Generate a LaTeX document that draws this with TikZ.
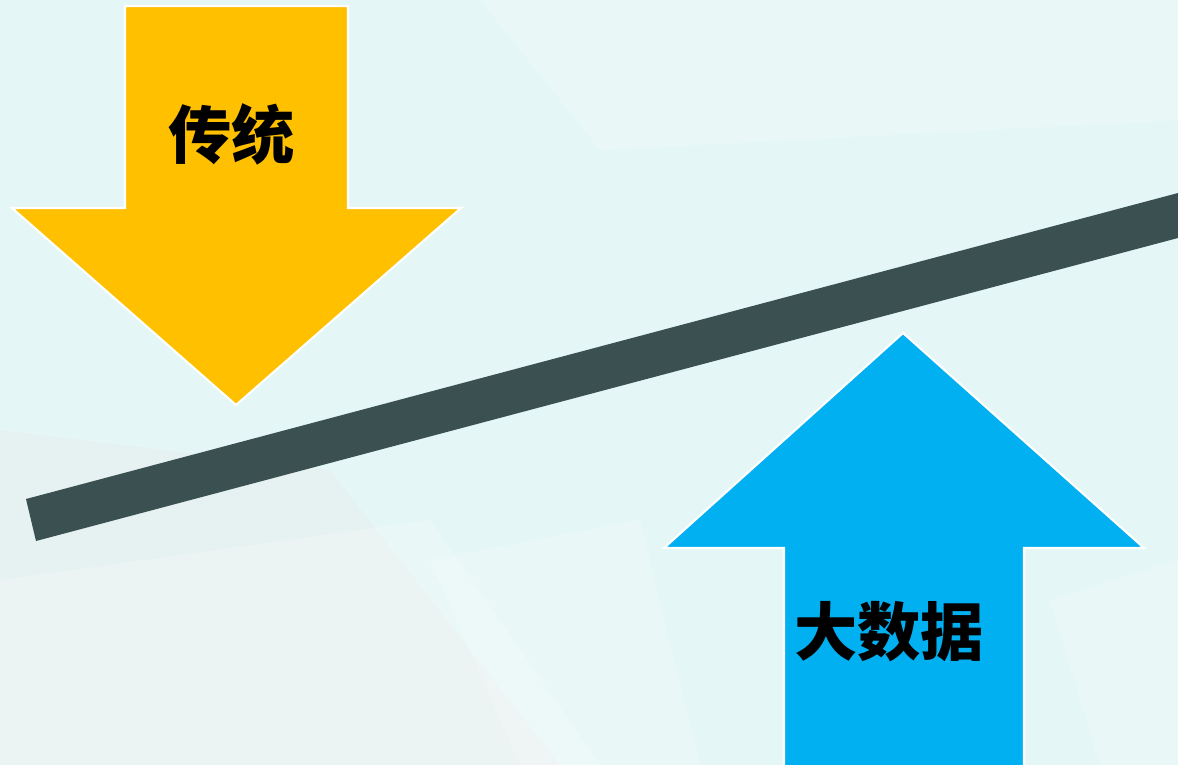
\documentclass[tikz,border=0pt]{standalone}
\usepackage{fontspec}
\newfontfamily\cjk{Noto Sans CJK SC}
\usepackage{tikz}
\usetikzlibrary{positioning,calc}

\definecolor{bgcyan}{RGB}{228,247,246}
\definecolor{bggrey}{RGB}{232,238,238}
\definecolor{oldyellow}{RGB}{255,192,0}
\definecolor{newblue}{RGB}{0,176,240}
\definecolor{beamgrey}{RGB}{59,80,80}

\begin{document}
\begin{tikzpicture}[
    x=0.02cm, y=-0.02cm,
    arrowshape/.style={draw=white, line width=1.2pt, line join=miter},
    facet/.style={fill=white, opacity=0.2, draw=none},
    label/.style={font=\cjk\bfseries\fontsize{36}{36}\selectfont, text=black, inner sep=0pt}
]

% Background
\useasboundingbox (0,0) rectangle (1178,765);
\fill[bgcyan] (0,0) rectangle (1178,765);
\fill[bggrey, opacity=0.6] (0,430) -- (330,470) -- (560,765) -- (0,765) -- cycle;
\fill[facet] (480,0) -- (1178,0) -- (1178,120) -- (600,150) -- cycle;
\fill[facet] (0,580) -- (430,520) -- (600,765) -- (0,765) -- cycle;
\fill[facet] (430,560) -- (640,520) -- (700,765) -- (520,765) -- cycle;
\fill[facet] (1050,600) -- (1178,560) -- (1178,765) -- (1100,765) -- cycle;

% Tilted beam
\fill[beamgrey] (26,499) -- (1178,193) -- (1178,238) -- (36,541) -- cycle;

% Traditional arrow (down)
\filldraw[arrowshape, fill=oldyellow]
    (125,6) -- (348,6) -- (348,208) -- (461,208) -- (236,405)
    -- (12,208) -- (125,208) -- cycle;
\node[label] (trad) at (232,134) {传统};

% Big data arrow (up)
\filldraw[arrowshape, fill=newblue]
    (903,333) -- (1144,548) -- (1024,548) -- (1024,775) -- (784,775)
    -- (784,548) -- (664,548) -- cycle;
\node[label] (bigdata) at (889,632) {大数据};

\end{tikzpicture}
\end{document}
